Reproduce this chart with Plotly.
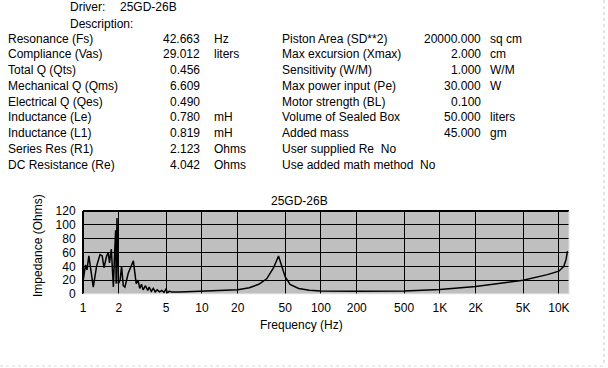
import plotly.graph_objects as go

# ---------------- data ----------------
freq_hz = [1.00, 1.05, 1.08, 1.12, 1.22, 1.30, 1.39, 1.45, 1.50, 1.58, 1.63, 1.67, 1.73,
           1.80, 1.84, 1.88, 1.90, 1.93, 1.98, 2.05, 2.11, 2.18, 2.25, 2.40, 2.65, 2.80,
           2.90, 3.00, 3.10, 3.20, 3.35, 3.50, 3.60, 3.75, 3.90, 4.05, 4.20, 4.40, 4.60,
           4.80, 5.00, 5.10, 5.30, 5.60, 6.50, 8.0, 10, 14, 20, 25, 30, 35, 40, 44, 46,
           50, 55, 65, 80, 100, 200, 500, 1000, 2000, 5000, 8000, 10000, 11000, 11500, 11800]
impedance = [18, 42, 35, 55, 10, 40, 57, 55, 38, 55, 60, 45, 65,
             10, 55, 92, 15, 110, 15, 20, 40, 12, 10, 30, 48, 15,
             20, 8, 14, 6, 12, 5, 10, 4, 8, 3, 6, 3, 5,
             2, 8, 1, 4, 3, 3, 3.5, 4, 4.5, 6, 9, 14, 22, 38, 55, 45,
             25, 14, 8, 5.5, 4.5, 4, 4.5, 6.5, 11, 20, 28, 33, 40, 50, 62]

x_tick_vals = [1, 2, 5, 10, 20, 50, 100, 200, 500, 1000, 2000, 5000, 10000]
x_tick_text = ["1", "2", "5", "10", "20", "50", "100", "200", "500", "1K", "2K", "5K", "10K"]
y_tick_vals = [0, 20, 40, 60, 80, 100, 120]

chart_title = "25GD-26B"
driver_name = "25GD-26B"

left_labels = ["Resonance (Fs)", "Compliance (Vas)", "Total Q (Qts)", "Mechanical Q (Qms)",
               "Electrical Q (Qes)", "Inductance (Le)", "Inductance (L1)", "Series Res (R1)",
               "DC Resistance (Re)"]
left_values = ["42.663", "29.012", "0.456", "6.609", "0.490", "0.780", "0.819", "2.123", "4.042"]
left_units = ["Hz", "liters", "", "", "", "mH", "mH", "Ohms", "Ohms"]

right_labels = ["Piston Area (SD**2)", "Max excursion (Xmax)", "Sensitivity (W/M)",
                "Max power input (Pe)", "Motor strength (BL)", "Volume of Sealed Box",
                "Added mass", "User supplied Re  No", "Use added math method  No"]
right_values = ["20000.000", "2.000", "1.000", "30.000", "0.100", "50.000", "45.000", "", ""]
right_units = ["sq cm", "cm", "W/M", "W", "", "liters", "gm", "", ""]

# ---------------- layout helpers ----------------
W_CANVAS, H_CANVAS = 608, 368
L, R, T, B = 83, 569, 211, 294
PW, PH = R - L, B - T


def px(x):
    return (x - L) / PW


def py(y):
    return (B - y) / PH


FONT = "Liberation Sans, Arial, sans-serif"
FS = 12

fig = go.Figure()
fig.add_trace(go.Scatter(x=freq_hz, y=impedance, mode="lines",
                         line=dict(color="black", width=1.5), hoverinfo="skip"))

ann = []


def txt(x, y, s, anchor="left", angle=0):
    ann.append(dict(x=px(x), y=py(y), xref="paper", yref="paper", text=s, showarrow=False,
                    xanchor=anchor, yanchor="middle", textangle=angle,
                    font=dict(family=FONT, size=FS, color="black")))


txt(68, 7, "Driver:")
txt(118, 7, driver_name)
txt(68, 23.5, "Description:")
row0, dy = 38.5, 15.75
for i in range(len(left_labels)):
    y = row0 + i * dy
    txt(6, y, left_labels[i])
    txt(202, y, left_values[i], anchor="right")
    if left_units[i]:
        txt(212, y, left_units[i])
for i in range(len(right_labels)):
    y = row0 + i * dy
    txt(280, y, right_labels[i])
    if right_values[i]:
        txt(483, y, right_values[i], anchor="right")
    if right_units[i]:
        txt(488, y, right_units[i])

txt(299, 201, chart_title, anchor="center")
txt(301, 325, "Frequency (Hz)", anchor="center")
txt(38, 246, "Impedance (Ohms)", anchor="center", angle=-90)

shapes = [
    dict(type="line", xref="paper", yref="paper", x0=0, x1=1, y0=1, y1=1,
         line=dict(color="black", width=2)),
    dict(type="line", xref="paper", yref="paper", x0=0, x1=0, y0=0, y1=1,
         line=dict(color="black", width=2)),
    dict(type="line", xref="paper", yref="paper", x0=1, x1=1, y0=0, y1=1,
         line=dict(color="#e0e0e0", width=1)),
    dict(type="line", xref="paper", yref="paper", x0=0, x1=1, y0=0, y1=0,
         line=dict(color="#eeeeee", width=1)),
    dict(type="line", xref="paper", yref="paper", x0=px(604), x1=px(604), y0=py(0), y1=py(366),
         line=dict(color="#c8c8c8", width=1, dash="dot")),
    dict(type="line", xref="paper", yref="paper", x0=px(0), x1=px(604), y0=py(366), y1=py(366),
         line=dict(color="#d8d8d8", width=1, dash="dot")),
]

fig.update_layout(
    width=W_CANVAS, height=H_CANVAS,
    margin=dict(l=L, r=W_CANVAS - R, t=T, b=H_CANVAS - B, pad=0),
    paper_bgcolor="white", plot_bgcolor="#bfbfbf",
    showlegend=False,
    font=dict(family=FONT, size=FS, color="black"),
    annotations=ann, shapes=shapes,
    xaxis=dict(type="log", range=[0, 4.085], tickvals=x_tick_vals, ticktext=x_tick_text,
               showgrid=True, gridcolor="black", gridwidth=1, zeroline=False,
               ticks="outside", ticklen=3, tickcolor="rgba(0,0,0,0)", showline=False,
               tickfont=dict(family=FONT, size=FS, color="black")),
    yaxis=dict(range=[0, 120], tickvals=y_tick_vals, showgrid=True, gridcolor="black",
               gridwidth=1, zeroline=False, ticks="outside", ticklen=4,
               tickcolor="rgba(0,0,0,0)", showline=False,
               tickfont=dict(family=FONT, size=FS, color="black")),
)

fig.write_html("out.html", config={"displayModeBar": False},
               post_script="document.body.style.margin='0';document.body.style.overflow='hidden';")
